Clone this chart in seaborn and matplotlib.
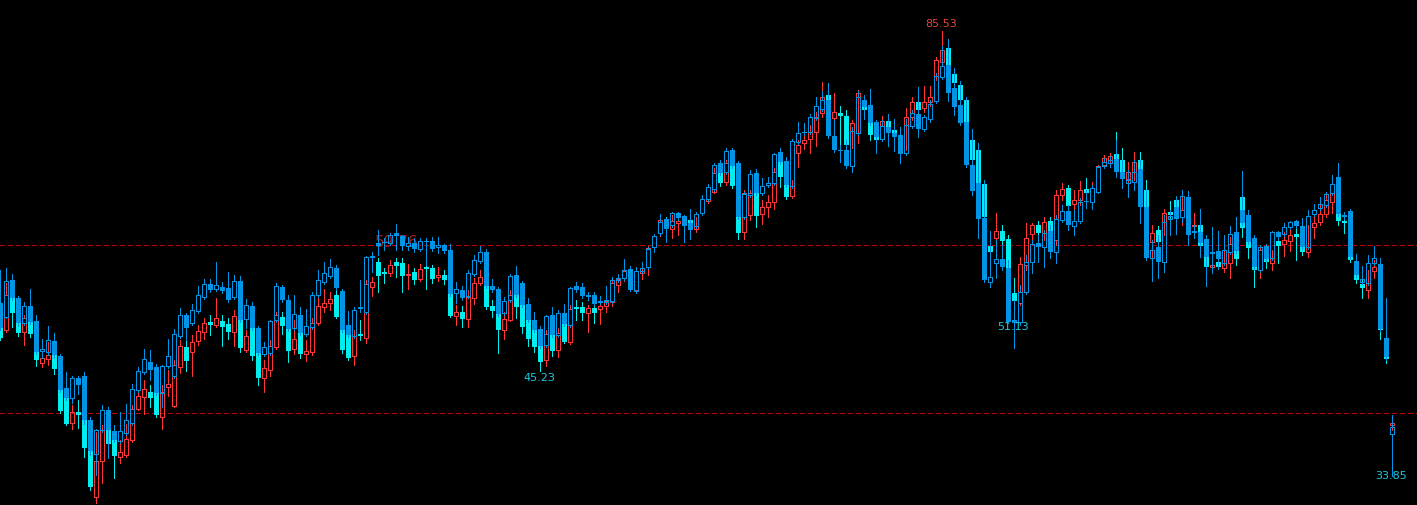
import matplotlib
matplotlib.use('Agg')

import numpy as np
import seaborn as sns
import matplotlib.pyplot as plt

sns.set_theme(style='dark', rc={'axes.facecolor': 'black', 'figure.facecolor': 'black'})

# series drawn on top (blue: hollow = up, filled = down)
a_open = [54.0, 52.3, 56.6, 54.5, 51.6, 53.6, 51.9, 48.4, 48.3, 49.5,
          47.8, 44.1, 42.9, 45.2, 45.5, 40.4, 36.4, 39.2, 41.5, 39.1,
          37.9, 38.8, 40.0, 43.8, 45.9, 47.1, 46.5, 43.5, 46.6, 45.5,
          50.1, 52.6, 51.6, 53.0, 54.7, 56.2, 55.6, 55.8, 55.7, 54.7,
          56.5, 52.1, 53.6, 51.1, 48.0, 48.1, 52.0, 55.8, 54.3, 51.1,
          52.6, 50.4, 51.2, 54.9, 56.4, 57.1, 58.0, 55.4, 51.4, 50.1,
          53.4, 52.9, 59.3, 60.9, 61.0, 60.9, 62.1, 61.8, 60.6, 60.9,
          60.2, 61.2, 61.2, 60.5, 60.7, 60.1, 55.1, 55.5, 54.8, 57.3,
          58.8, 59.9, 55.9, 55.6, 52.8, 54.3, 57.2, 56.3, 53.8, 52.0,
          50.9, 49.1, 52.6, 50.2, 52.8, 51.4, 55.9, 55.8, 54.8, 54.9,
          54.1, 54.1, 54.2, 56.6, 56.9, 57.9, 55.4, 57.7, 58.1, 60.5,
          62.1, 63.7, 63.0, 64.4, 64.1, 63.3, 62.9, 64.4, 66.0, 67.2,
          70.2, 69.2, 71.7, 70.2, 64.0, 66.5, 69.1, 66.7, 67.7, 67.9,
          71.5, 70.5, 67.6, 72.7, 73.8, 73.8, 75.5, 76.5, 77.6, 73.4,
          71.7, 71.7, 69.9, 73.7, 77.6, 77.0, 75.0, 73.0, 74.4, 73.7,
          73.5, 71.4, 74.5, 75.9, 74.2, 75.4, 77.4, 80.2, 81.6, 79.0,
          77.0, 75.0, 70.0, 67.9, 63.8, 56.4, 58.6, 59.1, 58.0, 52.0,
          51.7, 55.2, 58.7, 60.9, 60.5, 62.3, 59.9, 63.6, 64.7, 62.9,
          63.5, 65.8, 65.7, 66.9, 69.9, 70.2, 70.7, 69.2, 67.9, 68.0,
          69.5, 65.1, 59.2, 60.5, 58.7, 63.7, 65.1, 64.0, 66.3, 62.3,
          62.2, 61.4, 59.9, 60.0, 58.6, 59.9, 62.2, 64.8, 64.2, 61.5,
          57.8, 60.6, 59.2, 62.2, 62.0, 62.8, 63.5, 62.9, 60.5, 64.3,
          65.0, 65.4, 66.8, 68.6, 64.2, 64.7, 58.8, 56.4, 56.3, 58.6,
          58.5, 49.9, 38.7]
a_close = [51.1, 56.5, 54.5, 51.6, 53.6, 51.7, 48.3, 48.6, 49.7, 47.9,
           43.8, 42.9, 45.2, 44.4, 40.4, 36.7, 39.2, 41.5, 39.2, 38.0,
           39.1, 40.4, 44.0, 46.1, 47.4, 46.2, 43.5, 46.6, 47.8, 50.4,
           52.6, 51.1, 53.1, 54.9, 56.2, 55.5, 56.1, 55.4, 54.3, 56.5,
           52.0, 53.7, 51.1, 48.1, 48.8, 51.9, 55.9, 54.3, 50.9, 52.7,
           50.5, 51.3, 54.9, 56.6, 57.4, 58.1, 55.7, 50.8, 50.2, 53.1,
           53.5, 59.3, 59.4, 60.6, 60.9, 61.9, 61.8, 60.6, 60.9, 60.2,
           61.2, 61.0, 60.2, 60.7, 60.0, 55.0, 55.6, 54.5, 57.4, 59.0,
           59.9, 55.9, 55.5, 52.7, 54.2, 57.1, 54.9, 53.7, 52.0, 50.8,
           49.0, 52.4, 50.2, 52.8, 51.5, 55.7, 55.5, 54.8, 54.9, 53.8,
           54.2, 54.3, 56.6, 56.9, 57.8, 55.5, 57.7, 58.0, 60.2, 61.8,
           63.4, 62.6, 64.4, 63.8, 62.9, 62.4, 64.3, 66.0, 67.4, 70.0,
           69.1, 71.6, 69.9, 64.0, 66.6, 69.0, 66.7, 67.6, 67.9, 71.3,
           70.4, 67.7, 72.8, 73.7, 73.7, 75.6, 76.9, 77.6, 73.4, 71.7,
           71.6, 69.9, 74.0, 77.9, 76.7, 74.9, 73.3, 74.5, 73.7, 73.3,
           71.3, 74.7, 76.0, 74.2, 75.6, 77.1, 80.4, 81.5, 78.4, 76.7,
           74.9, 70.0, 67.0, 63.7, 56.6, 57.0, 59.1, 58.1, 51.7, 51.6,
           55.2, 58.7, 60.8, 60.5, 62.1, 59.9, 63.7, 64.7, 63.0, 63.5,
           65.7, 65.7, 67.3, 69.8, 70.4, 70.6, 69.2, 68.4, 68.3, 69.2,
           65.1, 59.2, 60.1, 58.7, 63.4, 64.1, 63.7, 66.4, 61.9, 62.1,
           60.9, 59.3, 59.7, 59.1, 60.1, 62.0, 60.0, 63.3, 61.0, 58.1,
           60.5, 59.1, 62.2, 61.6, 62.8, 63.4, 62.9, 60.5, 64.1, 64.8,
           65.5, 66.6, 67.8, 64.3, 64.0, 59.3, 57.2, 56.8, 58.6, 59.2,
           50.9, 47.7, 39.5]
a_high = [57.8, 58.0, 57.3, 54.8, 54.1, 55.6, 52.6, 49.8, 51.3, 50.5,
          48.0, 45.9, 45.5, 45.5, 45.9, 40.7, 39.3, 42.1, 41.9, 39.8,
          41.3, 42.2, 44.5, 46.5, 48.6, 48.5, 46.9, 46.7, 49.8, 50.9,
          53.4, 52.8, 53.8, 55.9, 56.8, 56.8, 58.7, 56.4, 57.6, 57.2,
          57.1, 54.4, 54.1, 51.3, 49.4, 52.0, 56.3, 56.1, 54.9, 54.9,
          53.5, 53.3, 55.2, 57.8, 58.7, 59.1, 58.4, 55.6, 53.0, 53.5,
          56.6, 59.4, 59.9, 62.4, 61.5, 62.1, 63.1, 61.9, 61.6, 61.5,
          61.5, 61.5, 61.6, 61.6, 60.8, 60.8, 56.4, 55.9, 57.8, 59.5,
          60.6, 60.2, 56.8, 55.8, 54.7, 57.3, 58.3, 56.5, 54.5, 52.9,
          51.3, 52.6, 53.5, 53.1, 53.8, 55.8, 56.4, 56.3, 55.2, 55.2,
          54.8, 55.9, 57.0, 57.3, 59.1, 58.3, 58.1, 58.7, 60.5, 62.0,
          64.3, 63.8, 64.5, 64.5, 64.2, 64.9, 64.5, 66.5, 67.8, 70.2,
          70.6, 72.0, 72.0, 70.5, 66.9, 69.4, 69.5, 68.5, 68.6, 71.4,
          72.0, 70.9, 73.0, 75.0, 74.9, 75.9, 77.9, 78.6, 79.5, 75.2,
          72.3, 72.9, 74.4, 78.6, 78.1, 78.8, 75.2, 75.2, 75.9, 75.4,
          74.4, 75.4, 76.4, 79.1, 75.8, 77.6, 80.7, 83.8, 84.7, 81.3,
          79.8, 77.9, 74.2, 72.6, 68.3, 62.3, 61.3, 60.7, 59.0, 54.3,
          56.1, 59.5, 61.3, 61.9, 62.4, 63.0, 64.2, 65.4, 65.4, 64.8,
          66.2, 67.1, 67.7, 69.9, 70.8, 71.0, 72.9, 70.6, 69.4, 70.6,
          70.6, 67.1, 61.3, 61.9, 64.2, 64.8, 66.4, 67.1, 67.0, 63.0,
          64.9, 61.9, 62.8, 62.3, 61.9, 62.9, 64.0, 69.3, 64.8, 61.9,
          60.7, 60.8, 62.3, 62.3, 63.3, 63.5, 63.6, 63.8, 64.8, 65.5,
          66.3, 66.9, 68.8, 70.2, 64.5, 64.9, 59.7, 58.3, 59.5, 60.6,
          59.2, 54.5, 40.9]
a_low = [50.8, 52.2, 54.3, 51.3, 51.4, 51.5, 48.0, 47.6, 47.9, 47.6,
         43.6, 42.7, 42.3, 43.4, 39.9, 36.3, 34.0, 39.0, 35.9, 37.8,
         37.7, 38.6, 39.8, 43.6, 45.7, 45.0, 43.3, 41.9, 46.4, 45.2,
         49.9, 49.7, 51.4, 52.8, 54.4, 55.2, 55.4, 55.1, 54.1, 54.4,
         51.7, 51.1, 50.8, 47.9, 47.8, 47.9, 51.7, 54.1, 50.7, 50.8,
         50.2, 50.1, 50.9, 54.7, 56.2, 56.9, 55.5, 50.6, 50.0, 49.9,
         52.9, 52.7, 57.6, 59.5, 60.1, 60.7, 60.1, 60.1, 60.1, 59.9,
         60.0, 58.4, 60.0, 59.8, 59.8, 54.8, 54.0, 54.3, 54.5, 57.1,
         58.6, 55.7, 55.2, 52.4, 52.6, 54.1, 54.7, 53.5, 51.7, 50.6,
         48.7, 48.8, 50.0, 50.0, 51.3, 51.2, 55.2, 54.5, 54.3, 53.6,
         53.8, 53.8, 54.0, 56.4, 56.6, 55.4, 55.1, 57.4, 57.9, 59.9,
         61.9, 61.0, 62.8, 63.6, 61.0, 61.4, 62.7, 64.2, 65.8, 67.0,
         68.8, 69.0, 69.7, 63.7, 63.7, 66.3, 66.5, 66.5, 67.4, 67.7,
         70.1, 67.4, 67.3, 72.4, 73.5, 73.6, 75.2, 76.3, 73.1, 71.5,
         70.4, 69.7, 69.2, 73.5, 75.4, 74.7, 71.4, 72.8, 72.2, 71.6,
         70.2, 71.2, 74.3, 73.3, 74.0, 75.0, 77.2, 80.0, 77.4, 75.8,
         74.7, 69.8, 66.5, 61.5, 56.4, 55.8, 56.9, 57.8, 51.6, 48.7,
         51.4, 55.0, 57.4, 58.7, 58.1, 59.2, 58.6, 63.4, 62.4, 61.9,
         63.3, 65.0, 64.9, 66.7, 69.7, 69.8, 68.6, 67.3, 66.3, 67.1,
         63.3, 59.0, 56.5, 56.9, 57.6, 61.9, 62.0, 63.4, 60.7, 61.5,
         59.3, 55.9, 57.4, 57.9, 58.4, 59.7, 59.8, 63.0, 60.8, 57.9,
         57.6, 58.8, 59.0, 61.3, 61.8, 62.6, 62.7, 60.2, 60.2, 64.1,
         64.8, 65.1, 66.5, 64.1, 63.7, 59.1, 57.0, 56.2, 56.1, 58.4,
         50.7, 47.3, 33.85]

# series drawn underneath (red hollow = up, cyan filled = down)
b_open = [52.6, 50.8, 55.5, 53.7, 50.6, 52.9, 50.8, 47.0, 47.4, 49.1,
          46.4, 42.9, 40.0, 41.3, 43.3, 39.2, 31.4, 35.6, 40.4, 38.3,
          36.1, 36.3, 38.0, 41.6, 43.0, 43.6, 45.6, 40.7, 44.2, 42.0,
          46.5, 48.8, 48.3, 49.5, 50.6, 51.7, 51.4, 51.9, 51.5, 50.6,
          54.3, 48.5, 52.0, 49.7, 45.2, 46.2, 48.8, 52.3, 52.6, 48.6,
          50.8, 48.0, 48.3, 51.6, 53.5, 53.9, 54.9, 53.7, 50.2, 47.8,
          50.4, 49.9, 55.8, 58.7, 57.6, 57.4, 58.7, 58.6, 57.2, 57.6,
          56.8, 58.1, 58.0, 57.0, 57.2, 57.8, 52.4, 52.9, 52.1, 54.5,
          56.3, 58.4, 53.6, 54.3, 50.8, 52.0, 56.1, 54.3, 52.6, 51.4,
          50.2, 47.3, 50.8, 48.5, 52.0, 49.4, 53.5, 53.5, 52.8, 53.4,
          53.3, 53.6, 54.1, 56.1, 56.9, 57.6, 55.5, 57.4, 58.1, 60.5,
          62.1, 63.7, 62.6, 63.3, 64.0, 63.6, 62.6, 64.4, 65.8, 66.9,
          69.7, 68.0, 70.6, 69.4, 62.2, 64.2, 67.7, 64.3, 65.1, 65.7,
          70.6, 69.4, 66.4, 71.4, 72.6, 73.0, 73.8, 76.1, 78.1, 75.5,
          76.1, 75.7, 73.9, 77.9, 77.3, 76.6, 74.7, 73.0, 75.1, 74.1,
          73.5, 74.7, 75.6, 77.3, 76.6, 77.3, 80.4, 82.0, 83.6, 80.6,
          79.3, 77.6, 72.9, 71.8, 67.8, 60.6, 61.5, 62.3, 61.4, 55.1,
          53.9, 58.4, 62.0, 63.0, 62.1, 63.5, 61.3, 66.5, 67.3, 65.5,
          65.9, 67.2, 65.7, 66.9, 70.0, 70.6, 71.3, 70.6, 68.4, 69.2,
          70.6, 67.1, 61.0, 62.4, 63.4, 64.5, 65.9, 64.0, 65.4, 62.9,
          63.0, 60.7, 58.1, 58.7, 58.0, 58.6, 61.3, 66.3, 63.0, 60.1,
          57.8, 60.1, 58.6, 61.2, 60.8, 61.2, 62.0, 61.9, 59.9, 62.8,
          63.4, 64.3, 65.7, 67.1, 63.5, 63.6, 58.7, 56.2, 55.5, 57.7,
          57.8, 49.9, 39.8]
b_close = [49.9, 54.9, 52.8, 50.5, 52.2, 50.4, 47.3, 47.6, 47.9, 46.3,
           41.4, 39.9, 41.3, 40.9, 37.1, 32.6, 35.6, 39.2, 37.6, 36.2,
           36.6, 38.1, 41.6, 43.2, 44.0, 42.9, 40.9, 43.6, 44.5, 46.7,
           49.0, 47.2, 49.4, 50.7, 51.6, 51.4, 52.2, 51.2, 50.6, 52.4,
           48.7, 50.1, 47.8, 45.2, 46.4, 49.0, 52.6, 51.3, 48.4, 49.8,
           48.0, 48.4, 51.6, 53.6, 54.0, 54.4, 52.3, 48.5, 47.6, 50.1,
           50.1, 56.2, 56.4, 57.1, 57.3, 58.4, 58.3, 57.1, 57.3, 56.6,
           57.9, 57.9, 56.8, 57.2, 56.6, 52.4, 52.9, 52.1, 54.7, 56.3,
           57.0, 53.5, 53.0, 50.8, 52.1, 54.9, 53.5, 51.2, 49.8, 48.8,
           47.1, 50.4, 48.4, 50.5, 49.4, 53.3, 53.3, 52.8, 53.4, 52.8,
           53.6, 54.2, 56.3, 56.8, 57.7, 55.5, 57.7, 57.7, 60.4, 61.8,
           63.6, 62.6, 63.5, 63.5, 62.9, 62.4, 62.9, 66.0, 67.4, 69.1,
           67.9, 70.2, 67.6, 62.1, 66.8, 66.8, 64.1, 65.1, 65.7, 69.2,
           68.6, 66.3, 67.6, 72.3, 72.9, 73.8, 75.6, 77.9, 75.2, 76.2,
           75.7, 72.3, 74.9, 78.4, 76.4, 73.5, 72.9, 75.1, 74.4, 73.3,
           71.8, 75.6, 77.3, 76.4, 77.3, 77.9, 82.2, 83.4, 81.6, 79.5,
           77.6, 75.0, 70.6, 67.9, 63.9, 59.9, 62.3, 61.2, 58.0, 54.2,
           58.5, 61.5, 63.0, 62.1, 63.4, 62.3, 66.5, 67.2, 65.2, 65.9,
           67.1, 66.8, 67.3, 69.9, 70.8, 71.0, 70.7, 69.2, 69.2, 70.4,
           69.5, 65.1, 62.1, 61.0, 64.4, 64.2, 64.5, 64.8, 62.4, 63.0,
           60.6, 58.1, 58.4, 58.1, 58.6, 60.8, 59.1, 62.7, 60.4, 57.8,
           60.1, 58.7, 59.2, 60.6, 61.3, 61.9, 61.6, 59.9, 60.5, 63.3,
           64.3, 65.9, 67.8, 63.5, 63.3, 59.0, 56.6, 55.7, 56.3, 58.2,
           50.8, 47.4, 40.0]
b_high = [54.3, 56.3, 56.1, 54.3, 52.6, 53.7, 51.4, 48.3, 49.4, 49.9,
          47.1, 43.8, 42.1, 42.7, 43.8, 39.8, 39.0, 39.8, 41.3, 39.2,
          38.0, 39.9, 42.1, 43.8, 45.0, 44.4, 46.2, 44.4, 46.2, 47.3,
          49.7, 49.7, 50.2, 51.4, 52.2, 52.6, 54.5, 52.6, 52.2, 53.1,
          54.9, 50.8, 52.6, 50.2, 47.3, 49.7, 52.9, 52.9, 53.1, 52.0,
          51.4, 49.7, 52.2, 54.7, 55.6, 55.2, 55.5, 54.3, 50.8, 50.8,
          52.0, 56.6, 57.0, 59.2, 58.0, 59.0, 59.2, 59.2, 58.5, 58.0,
          58.5, 58.7, 58.4, 58.1, 57.8, 58.4, 53.7, 53.6, 55.5, 56.9,
          57.8, 59.0, 54.3, 54.9, 52.9, 55.5, 56.6, 54.9, 53.1, 52.0,
          50.8, 50.8, 52.0, 51.1, 52.6, 53.7, 54.3, 54.1, 53.7, 53.7,
          54.0, 54.5, 56.6, 57.1, 58.4, 58.0, 58.0, 58.3, 60.6, 61.9,
          63.9, 63.9, 64.2, 64.1, 64.2, 64.5, 63.9, 66.4, 67.7, 69.7,
          70.2, 70.6, 71.2, 70.0, 67.1, 67.1, 68.3, 65.9, 66.5, 69.7,
          71.2, 70.0, 68.3, 72.9, 73.5, 74.7, 76.2, 79.7, 79.3, 78.4,
          76.9, 76.4, 75.2, 78.7, 77.8, 77.6, 75.0, 75.7, 75.7, 74.7,
          74.1, 76.6, 77.9, 77.9, 79.2, 79.2, 82.6, 85.53, 84.5, 81.1,
          79.7, 77.8, 73.5, 72.3, 68.0, 61.9, 64.4, 63.0, 61.9, 56.9,
          59.3, 63.3, 63.3, 63.5, 63.9, 64.0, 67.1, 67.9, 67.7, 67.1,
          68.1, 68.5, 68.0, 70.0, 71.2, 71.4, 73.8, 72.0, 70.4, 71.5,
          71.5, 68.3, 63.0, 62.9, 64.9, 65.8, 66.4, 67.1, 66.5, 64.4,
          64.2, 61.3, 59.5, 59.5, 60.1, 61.6, 61.9, 68.3, 63.6, 60.7,
          60.4, 60.4, 60.1, 61.9, 62.2, 62.4, 62.7, 62.4, 63.0, 64.2,
          65.4, 66.5, 68.5, 68.3, 64.2, 64.2, 59.2, 57.2, 57.8, 59.0,
          58.4, 52.0, 40.6]
b_low = [49.7, 50.6, 51.2, 50.1, 49.1, 50.0, 46.6, 46.5, 46.8, 45.7,
         41.2, 39.8, 39.3, 39.4, 36.1, 32.2, 30.7, 33.0, 35.9, 33.6,
         35.4, 36.1, 37.8, 41.5, 41.0, 41.9, 40.7, 39.3, 43.2, 41.9,
         45.8, 46.0, 45.5, 49.1, 49.8, 50.2, 51.2, 49.0, 49.8, 49.0,
         48.3, 48.3, 47.3, 44.4, 43.6, 45.5, 48.6, 50.4, 47.1, 48.0,
         47.6, 47.2, 47.9, 51.4, 52.9, 53.1, 52.2, 48.1, 47.3, 46.7,
         49.7, 49.3, 54.8, 55.2, 56.3, 57.1, 57.0, 55.2, 55.6, 56.2,
         56.5, 55.6, 56.3, 56.5, 56.2, 52.3, 51.4, 51.2, 51.2, 53.8,
         56.1, 53.3, 52.3, 48.2, 49.8, 51.9, 52.2, 50.5, 49.0, 48.3,
         46.1, 46.6, 47.8, 47.7, 49.3, 49.2, 52.0, 52.0, 50.6, 51.6,
         51.5, 52.9, 53.6, 55.2, 56.5, 55.4, 55.2, 56.8, 57.2, 60.1,
         61.8, 61.3, 61.5, 61.9, 61.3, 61.5, 62.2, 64.2, 65.6, 66.8,
         67.6, 67.7, 67.3, 61.4, 61.4, 63.6, 62.8, 63.1, 64.0, 64.9,
         67.4, 66.0, 66.2, 69.8, 71.9, 71.4, 72.2, 75.6, 74.7, 75.2,
         70.6, 71.7, 72.0, 72.6, 75.5, 72.9, 71.8, 72.8, 72.9, 72.0,
         70.8, 71.8, 75.2, 75.2, 76.2, 76.9, 79.9, 81.6, 80.5, 78.1,
         76.4, 74.1, 69.4, 67.1, 63.0, 59.0, 60.7, 60.1, 57.2, 53.1,
         53.7, 57.8, 61.3, 61.3, 61.3, 61.3, 60.7, 65.9, 64.8, 64.2,
         65.4, 65.9, 65.4, 66.8, 69.8, 70.0, 70.0, 68.3, 67.1, 68.3,
         68.3, 64.2, 59.0, 59.5, 61.9, 63.0, 63.0, 63.0, 61.3, 62.2,
         60.1, 57.8, 57.8, 57.9, 57.6, 56.9, 58.4, 61.6, 59.2, 55.8,
         56.9, 58.0, 57.8, 58.6, 59.4, 60.0, 59.0, 59.5, 59.3, 61.5,
         63.0, 64.0, 64.4, 63.0, 62.1, 58.7, 56.3, 54.5, 54.5, 56.9,
         49.8, 47.0, 39.2]

# price labels: bar index, value, placement
label_idx = [157, 90, 169, 232]
label_val = [85.53, 45.23, 51.13, 33.85]
label_kind = ['high', 'low', 'low', 'low']

levels = [60.70, 41.16]
faded_idx, faded_val, faded_txt = 66, 60.95, '59.76'

BLUE = '#0094E4'
CYAN = '#00EEEE'
RED = '#FF3434'
PX = 0.72  # one pixel at 100 dpi


def candles(ax, o, h, l, c, up_col, dn_col, z):
    o, h, l, c = map(np.asarray, (o, h, l, c))
    x = np.arange(len(o))
    up = c >= o
    dn = ~up
    top = np.maximum(o, c)
    bot = np.minimum(o, c)
    # bearish: full wick + filled body
    ax.vlines(x[dn], l[dn], h[dn], colors=dn_col, lw=PX, zorder=z, antialiased=False)
    ax.bar(x[dn], np.maximum(top - bot, 0.12)[dn], bottom=bot[dn], width=0.83,
           color=dn_col, lw=0, zorder=z, antialiased=False)
    # bullish: wick outside the body only, hollow body
    ax.vlines(x[up], top[up], h[up], colors=up_col, lw=PX, zorder=z, antialiased=False)
    ax.vlines(x[up], l[up], bot[up], colors=up_col, lw=PX, zorder=z, antialiased=False)
    ax.bar(x[up], np.maximum(top - bot, 0.02)[up], bottom=bot[up], width=0.67,
           facecolor='none', edgecolor=up_col, lw=PX, zorder=z + 0.5, antialiased=False)


fig = plt.figure(figsize=(14.17, 5.05), dpi=100, facecolor='black')
ax = fig.add_axes([0, 0, 1, 1])
ax.set_facecolor('black')

for lv in levels:
    ax.axhline(lv, color='#C00000', lw=1.0, ls=(0, (3, 2.5)), zorder=1, antialiased=False)

ax.text(faded_idx, faded_val, faded_txt, color='#B01818', fontsize=11,
        ha='center', va='center', zorder=1.5)

candles(ax, b_open, b_high, b_low, b_close, RED, CYAN, 2)
candles(ax, a_open, a_high, a_low, a_close, BLUE, BLUE, 4)

for i, v, kind in zip(label_idx, label_val, label_kind):
    if kind == 'high':
        ax.annotate(f'{v:.2f}', (i, v), xytext=(-1, 2), textcoords='offset points',
                    color='#E8453C', fontsize=8, ha='center', va='bottom', zorder=6)
    else:
        ax.annotate(f'{v:.2f}', (i, v), xytext=(-1, 0), textcoords='offset points',
                    color='#20C8E0', fontsize=8, ha='center', va='center', zorder=6)

ax.set_xlim(-0.05, 236.12)
ax.set_ylim(30.47, 89.19)
ax.set_axis_off()

fig.savefig('out.png', dpi=100, facecolor='black')
